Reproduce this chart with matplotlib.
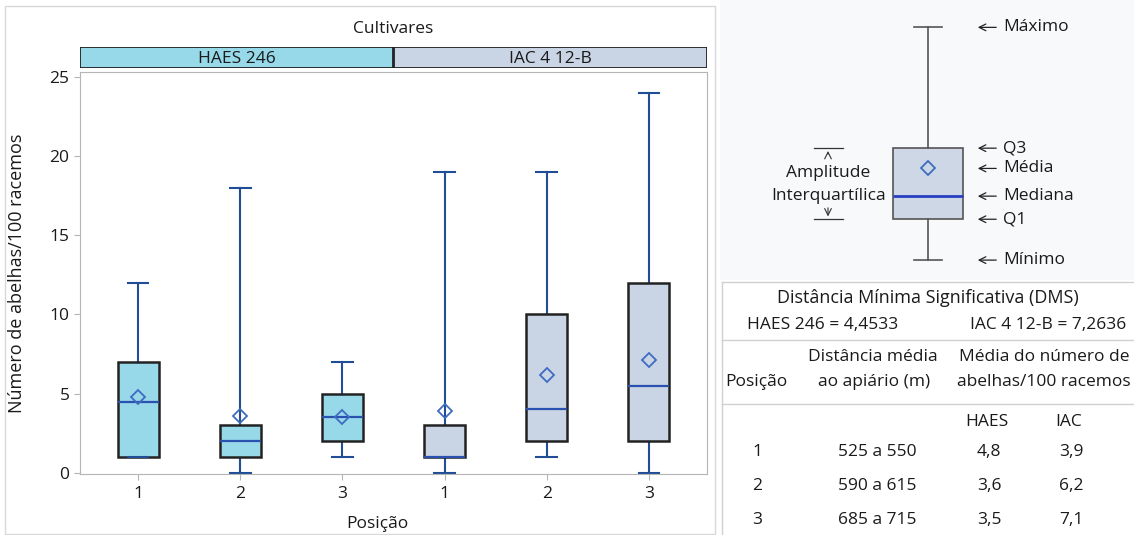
import matplotlib.pyplot as plt
from matplotlib.patches import Rectangle

plt.rcParams['font.family'] = ['Open Sans', 'DejaVu Sans']
plt.rcParams['font.size'] = 12

# data
cultivars = ['HAES 246', 'IAC 4 12-B']
positions = ['1', '2', '3']
minimum = [1, 0, 1, 0, 1, 0]
q1 = [1, 1, 2, 1, 2, 2]
median = [4.5, 2, 3.5, 1, 4, 5.5]
q3 = [7, 3, 5, 3, 10, 12]
maximum = [12, 18, 7, 19, 19, 24]
mean = [4.8, 3.6, 3.5, 3.9, 6.2, 7.1]

# table on the right
dms_haes = '4,4533'
dms_iac = '7,2636'
dist_ranges = ['525 a 550', '590 a 615', '685 a 715']
mean_haes = ['4,8', '3,6', '3,5']
mean_iac = ['3,9', '6,2', '7,1']

# schematic box for the key (illustrative values)
key_stats = dict(whislo=0, q1=1.15, med=1.8, mean=2.58, q3=3.15, whishi=6.55)

col_haes = '#97D8E9'
col_iac = '#C9D4E4'
blue = '#1F4E96'
fills = [col_haes] * 3 + [col_iac] * 3
tc = '#1A1A1A'
fl = 12.5   # left panel text
fk = 12.5   # right panel text

W, H = 1134, 535
fig = plt.figure(figsize=(W / 100, H / 100), dpi=100)

def fx(px):
    return px / W

def fy(py):
    return 1 - py / H

# panel border around the boxplot
fig.add_artist(Rectangle((fx(5), fy(534)), fx(710), fy(6) - fy(534), transform=fig.transFigure,
                         fill=False, edgecolor='#D8D8D8', lw=1))
# faint background of the key
fig.add_artist(Rectangle((fx(720), fy(280)), fx(414), fy(0) - fy(280), transform=fig.transFigure,
                         facecolor='#F8F9FB', edgecolor='none', zorder=-1))

ax = fig.add_axes([fx(80), fy(474), fx(627), fy(72) - fy(474)])
stats = []
for i in range(6):
    stats.append(dict(whislo=minimum[i], q1=q1[i], med=median[i], q3=q3[i],
                      whishi=maximum[i], mean=mean[i], fliers=[]))
xs = list(range(6))
bp = ax.bxp(stats, positions=xs, widths=0.4, capwidths=0.2, showmeans=True, patch_artist=True,
            boxprops=dict(edgecolor='#222222', lw=1.8),
            whiskerprops=dict(color=blue, lw=1.5),
            capprops=dict(color=blue, lw=1.5),
            medianprops=dict(color='#2A50B0', lw=1.6),
            meanprops=dict(marker='D', markerfacecolor='none', markeredgecolor='#3F6CC0',
                           markersize=7.5, markeredgewidth=1.3))
for patch, c in zip(bp['boxes'], fills):
    patch.set_facecolor(c)
for w in bp['whiskers']:
    w.set_zorder(1)
ax.set_xlim(-0.57, 5.57)
ax.set_ylim(-0.08, 25.32)
ax.set_yticks([0, 5, 10, 15, 20, 25])
ax.set_xticks(xs)
ax.set_xticklabels(positions * 2)
for s in ax.spines.values():
    s.set_color('#B5B5B5')
ax.tick_params(colors='#B5B5B5', labelcolor=tc, length=4, labelsize=fl)
ax.tick_params(axis='x', pad=5)
ax.set_xlabel('Posição', fontsize=fl, color=tc)
ax.xaxis.set_label_coords(0.475, -0.105)
ax.set_ylabel('Número de abelhas/100 racemos', fontsize=13, color=tc)
ax.yaxis.set_label_coords(-0.086, 0.5)

# cultivar strip
sx = fig.add_axes([fx(80), fy(68), fx(627), fy(47) - fy(68)])
sx.set_xlim(ax.get_xlim())
sx.set_ylim(0, 1)
sx.axis('off')
lo, hi = ax.get_xlim()
edges = [lo, 2.5, hi]
for k, (name, c) in enumerate(zip(cultivars, [col_haes, col_iac])):
    sx.add_patch(Rectangle((edges[k], 0), edges[k + 1] - edges[k], 1, facecolor=c,
                           edgecolor='#222222', lw=1.3))
    sx.text((edges[k] + edges[k + 1]) / 2, 0.45, name, ha='center', va='center', fontsize=fl,
            color=tc)
fig.text(fx(393), fy(29), 'Cultivares', ha='center', va='center', fontsize=fl, color=tc)

# key: schematic box
kx = fig.add_axes([fx(720), fy(280), fx(414), fy(0) - fy(280)])
kx.set_xlim(720, 1134)
kx.set_ylim(-0.56, 7.32)
kx.axis('off')
ks = dict(key_stats, fliers=[])
kb = kx.bxp([ks], positions=[928], widths=70, capwidths=28, showmeans=True, patch_artist=True,
            boxprops=dict(edgecolor='#555555', lw=1.2, facecolor='#CDD7E6'),
            whiskerprops=dict(color='#555555', lw=1.2),
            capprops=dict(color='#555555', lw=1.2),
            medianprops=dict(color='#2A3FC0', lw=2),
            meanprops=dict(marker='D', markerfacecolor='none', markeredgecolor='#3F6CC0',
                           markersize=7.5, markeredgewidth=1.3))
key_labels = [('whishi', 'Máximo'), ('q3', 'Q3'), ('mean', 'Média'), ('med', 'Mediana'),
              ('q1', 'Q1'), ('whislo', 'Mínimo')]
for key, lab in key_labels:
    yv = key_stats[key]
    kx.annotate('', xy=(975, yv), xytext=(999, yv),
                arrowprops=dict(arrowstyle='->', color='#222222', lw=0.9))
    kx.text(1003, yv, lab, ha='left', va='center', fontsize=fk, color=tc)
# interquartile bracket
for key in ['q1', 'q3']:
    kx.plot([814, 843], [key_stats[key]] * 2, color='#333333', lw=0.9)
mid = (key_stats['q1'] + key_stats['q3']) / 2
kx.annotate('', xy=(828, key_stats['q3']), xytext=(828, mid + 0.75),
            arrowprops=dict(arrowstyle='->', color='#333333', lw=0.8))
kx.annotate('', xy=(828, key_stats['q1']), xytext=(828, mid - 0.6),
            arrowprops=dict(arrowstyle='->', color='#333333', lw=0.8))
kx.text(828, mid + 0.3, 'Amplitude', ha='center', va='center', fontsize=fk, color=tc)
kx.text(829, key_stats['med'], 'Interquartílica', ha='center', va='center', fontsize=fk, color=tc)

# table
tx = fig.add_axes([fx(720), 0, fx(414), fy(280)])
tx.set_xlim(720, 1134)
tx.set_ylim(535, 280)
tx.axis('off')
lc = '#D0D0D0'
tx.plot([722, 722], [282, 535], color=lc, lw=1)
for yy in [282, 340, 404]:
    tx.plot([722, 1134], [yy, yy], color=lc, lw=1)
tx.text(928, 298, 'Distância Mínima Significativa (DMS)', ha='center', va='center', fontsize=13, color=tc)
tx.text(747, 325, 'HAES 246 = ' + dms_haes, ha='left', va='center', fontsize=fk, color=tc)
tx.text(1126, 325, 'IAC 4 12-B = ' + dms_iac, ha='right', va='center', fontsize=fk, color=tc)
tx.text(756, 382, 'Posição', ha='center', va='center', fontsize=fk, color=tc)
tx.text(873, 357, 'Distância média', ha='center', va='center', fontsize=fk, color=tc)
tx.text(874, 382, 'ao apiário (m)', ha='center', va='center', fontsize=fk, color=tc)
tx.text(1044, 357, 'Média do número de', ha='center', va='center', fontsize=fk, color=tc)
tx.text(1044, 382, 'abelhas/100 racemos', ha='center', va='center', fontsize=fk, color=tc)
tx.text(987, 422, 'HAES', ha='center', va='center', fontsize=fk, color=tc)
tx.text(1069, 422, 'IAC', ha='center', va='center', fontsize=fk, color=tc)
row_y = [452, 486, 520]
for i in range(3):
    tx.text(757, row_y[i], positions[i], ha='center', va='center', fontsize=fk, color=tc)
    tx.text(877, row_y[i], dist_ranges[i], ha='center', va='center', fontsize=fk, color=tc)
    tx.text(989, row_y[i], mean_haes[i], ha='center', va='center', fontsize=fk, color=tc)
    tx.text(1071, row_y[i], mean_iac[i], ha='center', va='center', fontsize=fk, color=tc)

fig.savefig('out.png', dpi=100)
